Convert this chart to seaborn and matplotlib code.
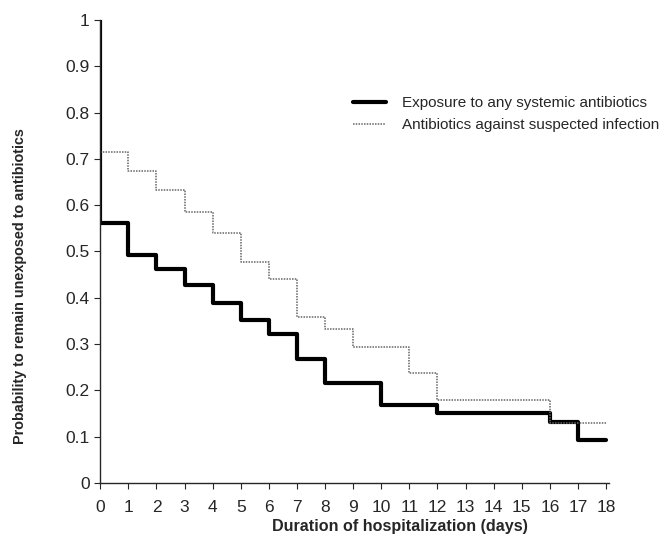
import pandas as pd
import seaborn as sns
import matplotlib.pyplot as plt

days = list(range(19))
# step values at each day (day 0 start is 1.0)
any_abx = [0.561, 0.492, 0.463, 0.428, 0.388, 0.352, 0.322, 0.267, 0.215, 0.215,
           0.168, 0.168, 0.150, 0.150, 0.150, 0.150, 0.131, 0.093, 0.093]
suspected = [0.716, 0.674, 0.633, 0.585, 0.541, 0.478, 0.440, 0.358, 0.333, 0.294,
             0.294, 0.238, 0.179, 0.179, 0.179, 0.179, 0.129, 0.129, 0.129]
labels = ["Exposure to any systemic antibiotics", "Antibiotics against suspected infection"]

rows = []
for lab, vals in zip(labels, [any_abx, suspected]):
    rows.append({"day": 0, "p": 1.0, "group": lab})
    for d, v in zip(days, vals):
        rows.append({"day": d, "p": v, "group": lab})
df = pd.DataFrame(rows)

sns.set_style("ticks")
plt.rcParams['font.family'] = ['Liberation Sans', 'DejaVu Sans']

fig = plt.figure(figsize=(6.64, 5.42), dpi=100)
ax = fig.add_axes([0.151, 0.109, 0.766, 0.854])

sns.lineplot(data=df[df.group == labels[0]], x="day", y="p", ax=ax, sort=False,
             estimator=None, drawstyle="steps-post", color="black", linewidth=3,
             label=labels[0])
sns.lineplot(data=df[df.group == labels[1]], x="day", y="p", ax=ax, sort=False,
             estimator=None, drawstyle="steps-post", color="#666666", linewidth=1.1,
             linestyle=(0, (1, 0.8)), label=labels[1])

ax.set_xlim(0, 18.1)
ax.set_ylim(0, 1)
ax.set_xticks(days)
ax.set_yticks([i / 10 for i in range(11)])
ax.set_yticklabels(["0", "0.1", "0.2", "0.3", "0.4", "0.5", "0.6", "0.7", "0.8", "0.9", "1"])
ax.tick_params(labelsize=12.5, length=4, width=0.8, direction="out")
ax.tick_params(axis="x", pad=8)
ax.margins(0)
sns.despine(ax=ax)
for s in ["left", "bottom"]:
    ax.spines[s].set_linewidth(1.0)

ax.set_xlabel("")
ax.set_ylabel("")
fig.text(400 / 664, 1 - 526 / 542, "Duration of hospitalization (days)", fontsize=11.6,
         fontweight="bold", ha="center", va="center")
fig.text(20 / 664, 1 - 286 / 542, "Probability to remain unexposed to antibiotics",
         fontsize=10.4, fontweight="bold", ha="center", va="center", rotation=90)

ax.legend(loc="upper left", bbox_to_anchor=(0.531, 0.822), bbox_transform=fig.transFigure,
          frameon=False, fontsize=11, handlelength=2.2, handletextpad=1.05,
          labelspacing=0.5, borderaxespad=0, borderpad=0)

fig.savefig("out.png", dpi=100)
